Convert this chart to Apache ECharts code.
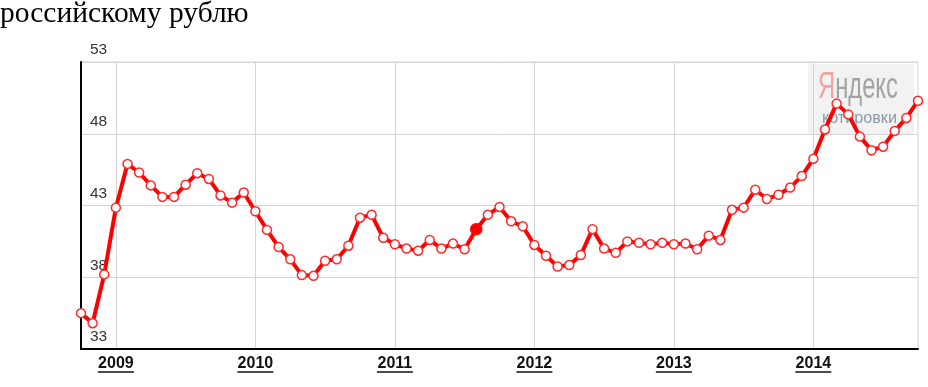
<!DOCTYPE html>
<html>
<head>
<meta charset="utf-8">
<script src="https://cdn.jsdelivr.net/npm/echarts@6/dist/echarts.min.js"></script>
<style>
html,body{margin:0;padding:0;background:#fff;}
#c{width:928px;height:387px;}
</style>
</head>
<body>
<div id="c"></div>
<script>
const titleText = 'российскому рублю';
const months = [
 '2008-10','2008-11','2008-12',
 '2009-01','2009-02','2009-03','2009-04','2009-05','2009-06','2009-07','2009-08','2009-09','2009-10','2009-11','2009-12',
 '2010-01','2010-02','2010-03','2010-04','2010-05','2010-06','2010-07','2010-08','2010-09','2010-10','2010-11','2010-12',
 '2011-01','2011-02','2011-03','2011-04','2011-05','2011-06','2011-07','2011-08','2011-09','2011-10','2011-11','2011-12',
 '2012-01','2012-02','2012-03','2012-04','2012-05','2012-06','2012-07','2012-08','2012-09','2012-10','2012-11','2012-12',
 '2013-01','2013-02','2013-03','2013-04','2013-05','2013-06','2013-07','2013-08','2013-09','2013-10','2013-11','2013-12',
 '2014-01','2014-02','2014-03','2014-04','2014-05','2014-06','2014-07','2014-08','2014-09','2014-10'
];
const rate = [
 35.5, 34.8, 38.2,
 42.85, 45.9, 45.3, 44.4, 43.6, 43.6, 44.45, 45.25, 44.85, 43.7, 43.2, 43.9,
 42.6, 41.3, 40.1, 39.25, 38.15, 38.1, 39.15, 39.25, 40.2, 42.15, 42.35, 40.75,
 40.3, 40.0, 39.85, 40.6, 40.0, 40.35, 39.95, 41.35, 42.35, 42.9, 41.9, 41.55,
 40.25, 39.5, 38.75, 38.85, 39.55, 41.35, 40.0, 39.7, 40.5, 40.4, 40.3, 40.4,
 40.3, 40.35, 39.95, 40.9, 40.6, 42.7, 42.85, 44.1, 43.45, 43.75, 44.25, 45.05,
 46.25, 48.3, 50.1, 49.35, 47.8, 46.85, 47.1, 48.2, 49.1, 50.3
];
const highlightIndex = 34;
const yMin = 33, yMax = 53, yStep = 5;

const isJan = (v) => String(v).slice(5) === '01';

const seriesData = rate.map((v, i) => i === highlightIndex
  ? { value: v, symbolSize: 11, itemStyle: { color: '#ff0000', borderColor: '#ff0000' } }
  : v);

const chart = echarts.init(document.getElementById('c'));
chart.setOption({
  animation: false,
  backgroundColor: '#fff',
  title: {
    text: titleText,
    left: 0, top: -1, padding: 0,
    textStyle: { fontFamily: 'Liberation Serif', fontSize: 29.5, fontWeight: 'normal', color: '#000' }
  },
  grid: { left: 81, right: 10, top: 62, bottom: 38, show: true, borderColor: '#d4d4d4', borderWidth: 1 },
  graphic: [{
    type: 'group', right: 14, top: 64, z: 1,
    children: [
      { type: 'rect', shape: { x: 0, y: 0, width: 106, height: 70, r: 3 }, style: { fill: 'rgba(232,232,232,0.55)' } },
      { type: 'text', x: 10, y: 6, scaleX: 0.66, style: {
          text: '{r|Я}{g|ндекс}',
          rich: {
            r: { fontFamily: 'Liberation Sans', fontSize: 36, fill: '#f4a3a3', color: '#f4a3a3' },
            g: { fontFamily: 'Liberation Sans', fontSize: 36, fill: '#a3a3a3', color: '#a3a3a3' }
          }
      } },
      { type: 'text', x: 14, y: 46, scaleX: 0.95, style: {
          text: 'котировки', fontFamily: 'Liberation Sans', fontSize: 17, fill: '#8c9aa8'
      } }
    ]
  }],
  xAxis: {
    type: 'category',
    data: months,
    boundaryGap: false,
    axisLine: { lineStyle: { color: '#000', width: 2 } },
    axisTick: { show: false },
    splitLine: { show: true, interval: (i, v) => isJan(v), lineStyle: { color: '#d4d4d4', width: 1 } },
    axisLabel: {
      interval: (i, v) => isJan(v),
      margin: 7,
      formatter: (v) => '{a|' + v.slice(0, 4) + '}\n{u|}',
      rich: {
        a: { fontFamily: 'Liberation Sans', fontSize: 16, fontWeight: 'bold', color: '#111', lineHeight: 15 },
        u: { width: 36, height: 1.5, backgroundColor: '#111', lineHeight: 2 }
      }
    }
  },
  yAxis: {
    type: 'value',
    min: yMin, max: yMax, interval: yStep,
    axisLine: { show: true, lineStyle: { color: '#000', width: 2 } },
    axisTick: { show: false },
    splitLine: { lineStyle: { color: '#d4d4d4', width: 1 } },
    axisLabel: {
      inside: true, margin: 9, verticalAlign: 'bottom', padding: [0, 0, 4, 0],
      fontFamily: 'Liberation Sans', fontSize: 15.5, color: '#333'
    }
  },
  series: [{
    type: 'line',
    data: seriesData,
    z: 3,
    symbol: 'circle',
    symbolSize: 9,
    showAllSymbol: true,
    lineStyle: { color: '#ff0000', width: 4 },
    itemStyle: { color: '#ffffff', borderColor: '#ff2a2a', borderWidth: 1.5 }
  }]
});
</script>
</body>
</html>
